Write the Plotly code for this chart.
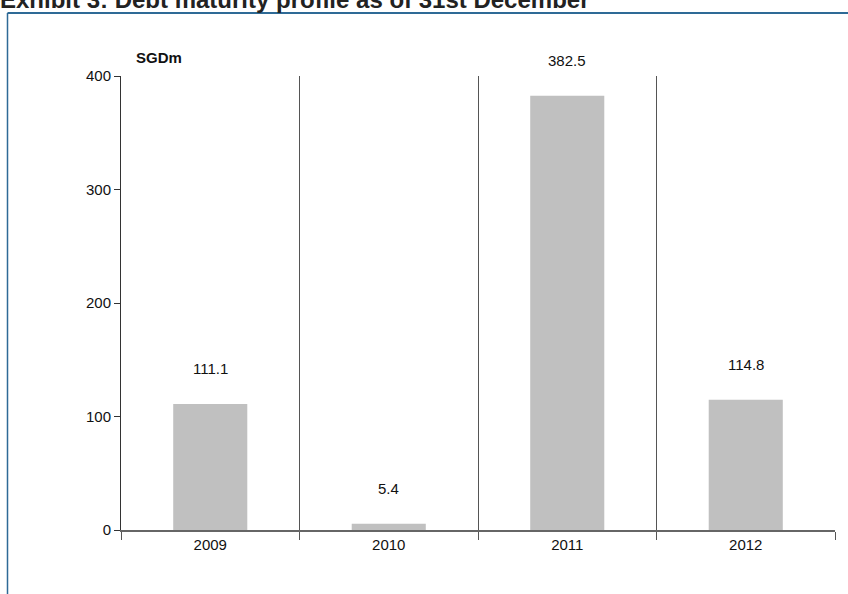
import plotly.graph_objects as go

years = ["2009", "2010", "2011", "2012"]
values = [111.1, 5.4, 382.5, 114.8]
labels = ["111.1", "5.4", "382.5", "114.8"]
y_ticks = [0, 100, 200, 300, 400]

FONT = "Liberation Sans Narrow, Arial Narrow, Liberation Sans, Arial, sans-serif"

fig = go.Figure()
fig.add_trace(go.Bar(
    x=years, y=values,
    marker=dict(color="#C0C0C0", line=dict(width=0)),
    hoverinfo="skip",
))

for i, (v, lab) in enumerate(zip(values, labels)):
    fig.add_annotation(x=i, y=v, text=lab, showarrow=False,
                       yanchor="middle", yshift=35,
                       font=dict(family=FONT, size=15, color="#111"))

fig.add_annotation(xref="paper", yref="paper", x=0, y=1, xanchor="left",
                   yanchor="bottom", xshift=13, yshift=8, text="<b>SGDm</b>",
                   showarrow=False, font=dict(family=FONT, size=15, color="#111"))

# frame lines
frame_color = "#2E6A96"
fig.add_shape(type="line", xref="paper", yref="paper",
              x0=(7.5 - 121) / 714, x1=(848 - 121) / 714 + 0.05,
              y0=(530 - 13) / 454, y1=(530 - 13) / 454,
              line=dict(color=frame_color, width=2))
fig.add_shape(type="line", xref="paper", yref="paper",
              x0=(7.5 - 121) / 714, x1=(7.5 - 121) / 714,
              y0=(530 - 13) / 454, y1=-0.3,
              line=dict(color=frame_color, width=1.5))

fig.update_layout(
    width=848, height=594,
    margin=dict(l=121, r=13, t=76, b=64),
    paper_bgcolor="white", plot_bgcolor="white",
    bargap=0.585,
    showlegend=False,
    title=dict(text="<b>Exhibit 3: Debt maturity profile as of 31st December</b>",
               x=0.0, xref="container", xanchor="left",
               y=1.0, yref="container", yanchor="middle",
               font=dict(family="Liberation Sans, Arial, sans-serif", size=24, color="#222")),
    font=dict(family=FONT, size=15, color="#111"),
)

fig.update_xaxes(
    type="category", range=[-0.5, 3.5], tickson="boundaries",
    ticks="outside", ticklen=8,
    tickcolor="#555", tickwidth=1,
    showgrid=True, gridcolor="#555", gridwidth=1,
    showline=True, linecolor="#666", linewidth=2,
    tickfont=dict(family=FONT, size=15, color="#111"),
    fixedrange=True,
)
fig.update_yaxes(
    range=[0, 400], tickvals=y_ticks, ticks="outside", ticklen=6,
    tickcolor="#333", showgrid=False, zeroline=False,
    showline=True, linecolor="#333", linewidth=1,
    tickfont=dict(family=FONT, size=15, color="#111"),
    fixedrange=True,
)

fig.write_html("out.html", config={"displayModeBar": False},
               post_script="document.body.style.margin='0';document.body.style.overflow='hidden';")
